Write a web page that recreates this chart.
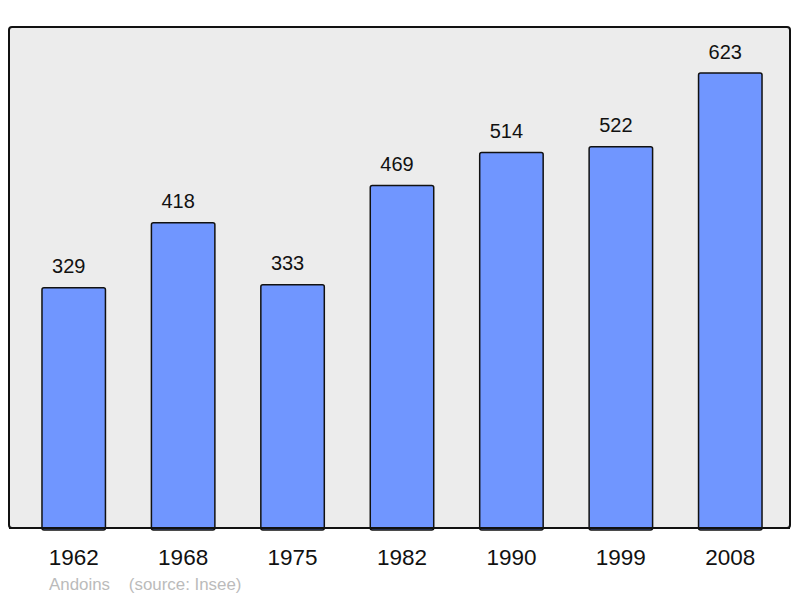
<!DOCTYPE html>
<html>
<head>
<meta charset="utf-8">
<script src="https://cdn.jsdelivr.net/npm/d3@7"></script>
<style>
  body { margin: 0; background: #fff; }
  text { font-family: "Liberation Sans", Arial, sans-serif; }
</style>
</head>
<body>
<div id="chart"></div>
<script>
// population data
let years = ['1962', '1968', '1975', '1982', '1990', '1999', '2008']
let population = [329, 418, 333, 469, 514, 522, 623]
let commune = 'Andoins'
let source = '(source: Insee)'

let width = 800
let height = 598

// frame of the plot area
let frameLeft = 9
let frameTop = 27
let frameRight = 790
let frameBottom = 528

let svg = d3
  .select('#chart')
  .append('svg')
  .attr('width', width)
  .attr('height', height)

svg
  .append('rect')
  .attr('x', frameLeft)
  .attr('y', frameTop)
  .attr('width', frameRight - frameLeft)
  .attr('height', frameBottom - frameTop)
  .attr('rx', 3)
  .attr('fill', '#ececec')
  .attr('stroke', '#111')
  .attr('stroke-width', 2)

let xScale = d3
  .scaleBand()
  .domain(years)
  .range([19, 785])
  .paddingInner(0.42)
  .paddingOuter(0.21)

let yScale = d3
  .scaleLinear()
  .domain([0, 623])
  .range([frameBottom, 73])

let bars = svg.append('g').attr('class', 'bars')

bars
  .selectAll('rect')
  .data(population)
  .enter()
  .append('rect')
  .attr('x', (d, i) => xScale(years[i]))
  .attr('y', d => yScale(d))
  .attr('width', xScale.bandwidth())
  .attr('height', d => frameBottom - yScale(d) + 2)
  .attr('rx', 2)
  .attr('fill', '#7096ff')
  .attr('stroke', '#111')
  .attr('stroke-width', 1.5)

// value labels above bars (sit a little left of centre, as in the original)
svg
  .append('g')
  .selectAll('text')
  .data(population)
  .enter()
  .append('text')
  .attr('x', (d, i) => xScale(years[i]) + xScale.bandwidth() / 2 - 5)
  .attr('y', d => yScale(d) - 14.5)
  .attr('text-anchor', 'middle')
  .attr('font-size', 20)
  .attr('fill', '#111')
  .text(d => d)

// redraw bottom frame line over bars
svg
  .append('line')
  .attr('x1', frameLeft)
  .attr('x2', frameRight)
  .attr('y1', frameBottom)
  .attr('y2', frameBottom)
  .attr('stroke', '#111')
  .attr('stroke-width', 2)

// year labels
svg
  .append('g')
  .selectAll('text')
  .data(years)
  .enter()
  .append('text')
  .attr('x', d => xScale(d) + xScale.bandwidth() / 2)
  .attr('y', 565)
  .attr('text-anchor', 'middle')
  .attr('font-size', 22.5)
  .attr('fill', '#111')
  .text(d => d)

svg
  .append('text')
  .attr('x', 49)
  .attr('y', 590)
  .attr('font-size', 16.9)
  .attr('fill', '#bbb')
  .attr('xml:space', 'preserve')
  .text(commune + '    ' + source)
</script>
</body>
</html>
